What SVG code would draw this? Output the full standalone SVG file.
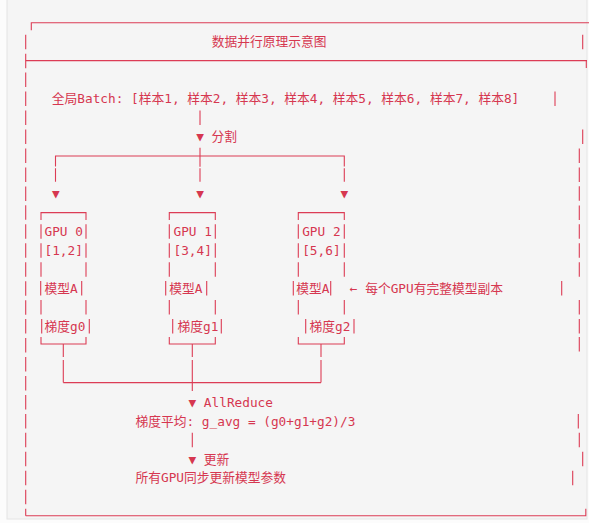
<svg xmlns="http://www.w3.org/2000/svg" width="589" height="523" viewBox="0 0 589 523">
  <style>
    .t { font-family: "DejaVu Sans Mono", "Liberation Mono", "Noto Sans CJK SC", monospace; font-size: 12.75px; fill: #d63750; }
    .ln { stroke: #dc3c55; stroke-width: 1.1; fill: none; }
  </style>
  <rect x="0" y="0" width="589" height="523" fill="#fcfcfc"/>
  <rect x="7" y="-1" width="580" height="520" fill="#f5f5f5" stroke="#e4e4e4" stroke-width="1"/>

  <g id="panel">
    <path class="ln" d="M31.3,30.2 V22.7 H589"/>
    <path class="ln" d="M25.7,60.6 H587 M586.3,60.6 V68.1"/>
    <path class="ln" d="M25.7,515.7 H585.8 V508.7"/>
    <path class="ln" d="M25.7,34.7 V515.7" stroke-dasharray="14.5 4.46"/>
    <path class="ln" d="M582.7,34.7 v14.5 M555,91.5 v14.5 M582.7,129.5 v14.5 M579.3,148.6 v14.5 M579.3,167.4 v14.5 M579.3,186.3 v14.5 M579.3,205.6 v14.5 M579.3,224.3 v14.5 M579.3,243.2 v14.5 M579.3,262.2 v14.5 M561.7,281.1 v14.5 M579.3,300.1 v14.5 M579.3,319.1 v14.5 M579.3,337 v14.5 M578.3,413.9 v14.5 M579.3,432.8 v14.5 M582.7,451.8 v14.5 M572.7,470.7 v14.5"/>
    <text class="t" x="211.7" y="46.4">数据并行原理示意图</text>
  </g>

  <g id="batch">
    <text class="t" x="51.8" y="103.2">全局Batch: [样本1, 样本2, 样本3, 样本4, 样本5, 样本6, 样本7, 样本8]</text>
  </g>

  <g id="gpu0">
    <path class="ln" d="M41,220.1 V212.6 H86 V220.1"/>
    <path class="ln" d="M41,224.3 v14.5 M86,224.3 v14.5 M41,243.2 v14.5 M86,243.2 v14.5 M41,262.2 v14.5 M86,262.2 v14.5 M40.7,281.1 v14.5 M81.7,281.1 v14.5 M41,300.1 v14.5 M86,300.1 v14.5 M41.7,319.1 v14.5 M89.3,319.1 v14.5"/>
    <path class="ln" d="M41,337 V344 H86 V337"/>
    <text class="t" x="44.5" y="236">GPU 0</text>
    <text class="t" x="44.5" y="254.9">[1,2]</text>
    <text class="t" x="44.5" y="292.8">模型A</text>
    <text class="t" x="44.5" y="330.8">梯度g0</text>
  </g>

  <g id="gpu1">
    <path class="ln" d="M169.3,220.1 V212.6 H215.3 V220.1"/>
    <path class="ln" d="M169.3,224.3 v14.5 M215.3,224.3 v14.5 M169.3,243.2 v14.5 M215.3,243.2 v14.5 M169.3,262.2 v14.5 M215.3,262.2 v14.5 M165.7,281.1 v14.5 M206.7,281.1 v14.5 M169.3,300.1 v14.5 M215.3,300.1 v14.5 M172.7,319.1 v14.5 M221.3,319.1 v14.5"/>
    <path class="ln" d="M169.3,337 V344 H215.3 V337"/>
    <text class="t" x="173.5" y="236">GPU 1</text>
    <text class="t" x="173.5" y="254.9">[3,4]</text>
    <text class="t" x="169.2" y="292.8">模型A</text>
    <text class="t" x="177.5" y="330.8">梯度g1</text>
  </g>

  <g id="gpu2">
    <path class="ln" d="M298.3,220.1 V212.6 H344.3 V220.1"/>
    <path class="ln" d="M298.3,224.3 v14.5 M344.3,224.3 v14.5 M298.3,243.2 v14.5 M344.3,243.2 v14.5 M298.3,262.2 v14.5 M344.3,262.2 v14.5 M293.3,281.1 v14.5 M330.7,281.1 v14.5 M298.3,300.1 v14.5 M344.3,300.1 v14.5 M305.7,319.1 v14.5 M354,319.1 v14.5"/>
    <path class="ln" d="M298.3,337 V344 H344.3 V337"/>
    <text class="t" x="302.2" y="236">GPU 2</text>
    <text class="t" x="302.2" y="254.9">[5,6]</text>
    <text class="t" x="296.2" y="292.8">模型A</text>
    <text class="t" x="309.5" y="330.8">梯度g2</text>
  </g>

  <g id="note">
    <text class="t" x="349.8" y="292.8">← 每个GPU有完整模型副本</text>
  </g>

  <g id="connectors">
    <path class="ln" d="M200,110.5 v14.5"/>
    <text class="t" x="196.2" y="141.2">▼ 分割</text>
    <path class="ln" d="M55.5,166.5 V156 H344.3 V166.5 M200,147.7 V166.7"/>
    <path class="ln" d="M55.5,168.3 v13.5 M200,168.3 v13.5 M344.3,168.3 v13.5"/>
    <text class="t" x="51.9" y="198">▼</text>
    <text class="t" x="196.2" y="198">▼</text>
    <text class="t" x="340.5" y="198">▼</text>
    <path class="ln" d="M63.3,344 V357 M63.3,360 V382.6 M192.3,344 V357 M192.3,360 V391 M321,344 V357 M321,360 V382.6 M63.3,382.6 H321"/>
    <text class="t" x="188.5" y="406.6">▼ AllReduce</text>
    <path class="ln" d="M192.3,432.8 v14.5"/>
    <text class="t" x="188.5" y="463.5">▼ 更新</text>
  </g>

  <g id="average">
    <text class="t" x="135.5" y="425.6">梯度平均: g_avg = (g0+g1+g2)/3</text>
  </g>

  <g id="sync">
    <text class="t" x="135.5" y="482.4">所有GPU同步更新模型参数</text>
  </g>
</svg>
